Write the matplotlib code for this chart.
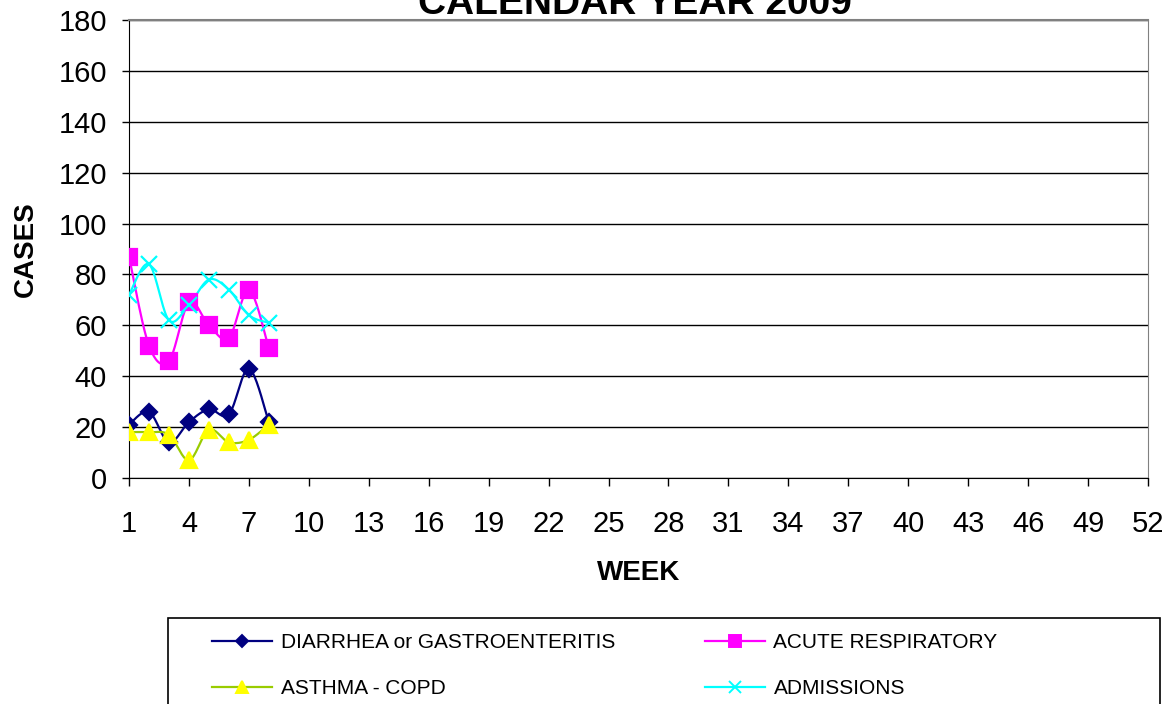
import numpy as np
import matplotlib.pyplot as plt
from matplotlib.patches import Rectangle

plt.rcParams['font.family'] = ['Liberation Sans', 'DejaVu Sans']

# weekly case counts, calendar year 2009 (only first 8 weeks reported)
weeks = [1, 2, 3, 4, 5, 6, 7, 8]
diarrhea = [21, 26, 14, 22, 27, 25, 43, 22]
respiratory = [87, 52, 46, 69, 60, 55, 74, 51]
asthma = [18, 18, 17, 7, 19, 14, 15, 21]
admissions = [72, 84, 62, 68, 78, 74, 64, 61]

x_ticks = list(range(1, 53, 3))
y_ticks = list(range(0, 181, 20))


def smooth(xs, ys, n=20):
    """Catmull-Rom curve through the points, like Excel's smoothed line"""
    p = np.column_stack([xs, ys]).astype(float)
    p = np.vstack([p[0], p, p[-1]])
    out = []
    t = np.linspace(0, 1, n, endpoint=False)[:, None]
    for i in range(1, len(p) - 2):
        p0, p1, p2, p3 = p[i - 1], p[i], p[i + 1], p[i + 2]
        seg = 0.5 * ((2 * p1) + (-p0 + p2) * t
                     + (2 * p0 - 5 * p1 + 4 * p2 - p3) * t ** 2
                     + (-p0 + 3 * p1 - 3 * p2 + p3) * t ** 3)
        out.append(seg)
    out.append(p[-2][None, :])
    out = np.vstack(out)
    return out[:, 0], out[:, 1]


fig = plt.figure(figsize=(11.72, 7.04), dpi=100)
ax = fig.add_axes([129 / 1172, 1 - 478 / 704, (1148 - 129) / 1172, (478 - 20) / 704])

series = [
    ('DIARRHEA or GASTROENTERITIS', diarrhea, '#000080', '#000080', 'D', 8),
    ('ACUTE RESPIRATORY', respiratory, '#FF00FF', '#FF00FF', 's', 11),
    ('ASTHMA - COPD', asthma, '#99CC00', '#FFFF00', '^', 11),
    ('ADMISSIONS', admissions, '#00FFFF', '#00FFFF', 'x', 11),
]

handles = []
for label, vals, lc, mc, mk, ms in series:
    sx, sy = smooth(weeks, vals)
    ax.plot(sx, sy, color=lc, lw=1.6, zorder=3)
    ax.plot(weeks, vals, ls='none', marker=mk, ms=ms, mfc=mc, mec=mc,
            mew=1.6, zorder=4)
    h, = ax.plot([], [], color=lc, lw=1.6, marker=mk, ms=ms * 0.8,
                 mfc=mc, mec=mc, mew=1.4, label=label)
    handles.append(h)

ax.set_xlim(1, 52)
ax.set_ylim(0, 180)
ax.set_xticks(x_ticks)
ax.set_yticks(y_ticks)
ax.yaxis.grid(True, color='black', lw=1)
ax.set_axisbelow(True)
ax.tick_params(axis='x', length=6, width=1, pad=17, labelsize=21, direction='out')
ax.tick_params(axis='y', length=5, width=1, pad=11, labelsize=21, direction='out')
ax.spines['left'].set_color('black')
ax.spines['bottom'].set_color('black')
ax.spines['right'].set_color('#808080')
ax.spines['top'].set_color('#808080')
ax.spines['top'].set_linewidth(1.5)

ax.set_xlabel('WEEK', fontsize=20, weight='bold', labelpad=16)
ax.set_ylabel('CASES', fontsize=20, weight='bold', labelpad=14)

fig.text(635 / 1172, 1 - 14 / 704, 'CALENDAR YEAR 2009', fontsize=28,
         weight='bold', ha='center', va='baseline')

# legend frame drawn by hand, it runs off the bottom of the picture
fig.patches.append(Rectangle((168 / 1172, -0.02), (1160 - 168) / 1172,
                             1 - 618 / 704 + 0.02, transform=fig.transFigure,
                             facecolor='white', edgecolor='black', lw=1.2))
# legend fills column by column: row 1 = diarrhea, respiratory
order = [0, 2, 1, 3]
fig.legend(handles=[handles[i] for i in order], ncol=2, loc='upper left',
           frameon=False, bbox_to_anchor=(212 / 1172, 1 - 633 / 704),
           borderpad=0, borderaxespad=0, fontsize=15, handlelength=2.9,
           handletextpad=0.4, columnspacing=4.3, labelspacing=1.3)

fig.savefig('out.png', dpi=100, facecolor='white')
